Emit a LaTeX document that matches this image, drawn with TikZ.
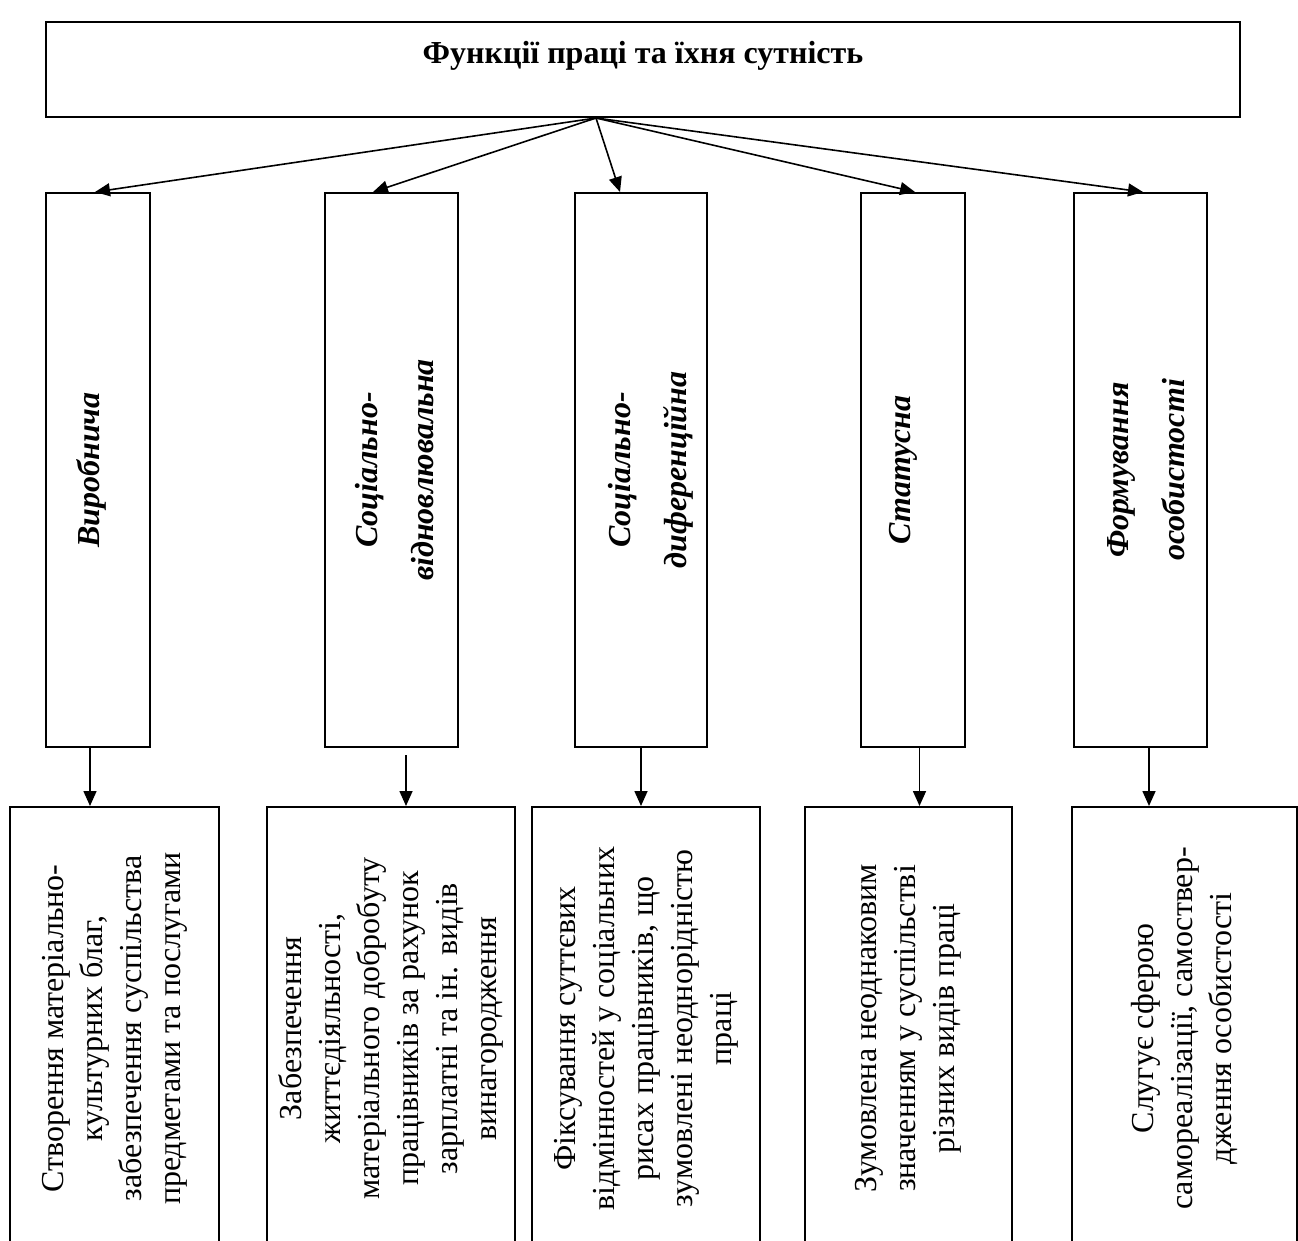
\documentclass[tikz,border=0pt]{standalone}
\usepackage{fontspec}
\setmainfont{Liberation Serif}
\usetikzlibrary{arrows.meta}
\begin{document}
\begin{tikzpicture}[x=1pt,y=-1pt,
  box/.style={draw, line width=2pt, inner sep=0pt},
  arr/.style={line width=1.6pt, -{Triangle[length=15pt,width=13pt]}},
  lbl/.style={rotate=90, anchor=north, align=center, inner sep=0pt,
    font=\bfseries\itshape\fontsize{32}{56}\selectfont},
  desc/.style={box, rotate=90, align=center, minimum width=443pt,
    font=\fontsize{32}{39}\selectfont}]
\useasboundingbox (0,0) rectangle (1298,1241);
\clip (0,0) rectangle (1298,1241);
% top
\node[box, minimum width=1194pt, minimum height=95pt] (top) at (643,69.5) {};
\node[inner sep=0pt, font=\bfseries\fontsize{32}{38}\selectfont] (title) at (643,56) {Функції праці та їхня сутність};
% middle boxes
\node[box, minimum width=104pt, minimum height=554pt] (m1) at (98,470) {};
\node[box, minimum width=133pt, minimum height=554pt] (m2) at (391.5,470) {};
\node[box, minimum width=132pt, minimum height=554pt] (m3) at (641,470) {};
\node[box, minimum width=104pt, minimum height=554pt] (m4) at (913,470) {};
\node[box, minimum width=133pt, minimum height=554pt] (m5) at (1140.5,470) {};
\node[lbl] (l1) at ([xshift=31pt]m1.west) {Виробнича};
\node[lbl] (l2) at ([xshift=31pt]m2.west) {Соціально-\\відновлювальна};
\node[lbl] (l3) at ([xshift=34pt]m3.west) {Соціально-\\диференційна};
\node[lbl] (l4) at ([xshift=29pt]m4.west) {Статусна};
\node[lbl] (l5) at ([xshift=34pt]m5.west) {Формування\\особистості};
% lower boxes
\node[desc, minimum height=209pt] (d1) at (114.5,1028.5) {Створення матеріально-\\культурних благ,\\забезпечення суспільства\\предметами та послугами};
\node[desc, minimum height=248pt] (d2) at (391,1028.5) {Забезпечення\\життєдіяльності,\\матеріального добробуту\\працівників за рахунок\\зарплатні та ін. видів\\винагородження};
\node[desc, minimum height=228pt] (d3) at (646,1028.5) {Фіксування суттєвих\\відмінностей у соціальних\\рисах працівників, що\\зумовлені неоднорідністю\\праці};
\node[desc, minimum height=207pt] (d4) at (908.5,1028.5) {Зумовлена неоднаковим\\значенням у суспільстві\\різних видів праці};
\node[desc, minimum height=225pt] (d5) at (1184.5,1028.5) {Слугує сферою\\самореалізації, самоствер-\\дження особистості};
% top arrows
\coordinate (o) at ([xshift=-47pt]top.south);
\coordinate (t1) at ([xshift=-3pt]m1.north);
\coordinate (t2) at ([xshift=-18.5pt]m2.north);
\coordinate (t3) at ([xshift=-21pt]m3.north);
\coordinate (t4) at ([xshift=2pt]m4.north);
\coordinate (t5) at ([xshift=2.5pt]m5.north);
\foreach \i in {1,...,5} \draw[arr] (o) -- (t\i);
% lower arrows
\coordinate (s1) at ([xshift=-8pt]m1.south);
\coordinate (s2) at ([xshift=14.5pt,yshift=-7pt]m2.south);
\coordinate (s3) at (m3.south);
\coordinate (s4) at ([xshift=6.5pt]m4.south);
\coordinate (s5) at ([xshift=8.5pt]m5.south);
\draw[arr] (s1) -- (s1 |- d1.east);
\draw[arr] (s2) -- (s2 |- d2.east);
\draw[arr] (s3) -- (s3 |- d3.east);
\draw[arr] (s4) -- (s4 |- d4.east);
\draw[arr] (s5) -- (s5 |- d5.east);
\end{tikzpicture}
\end{document}
